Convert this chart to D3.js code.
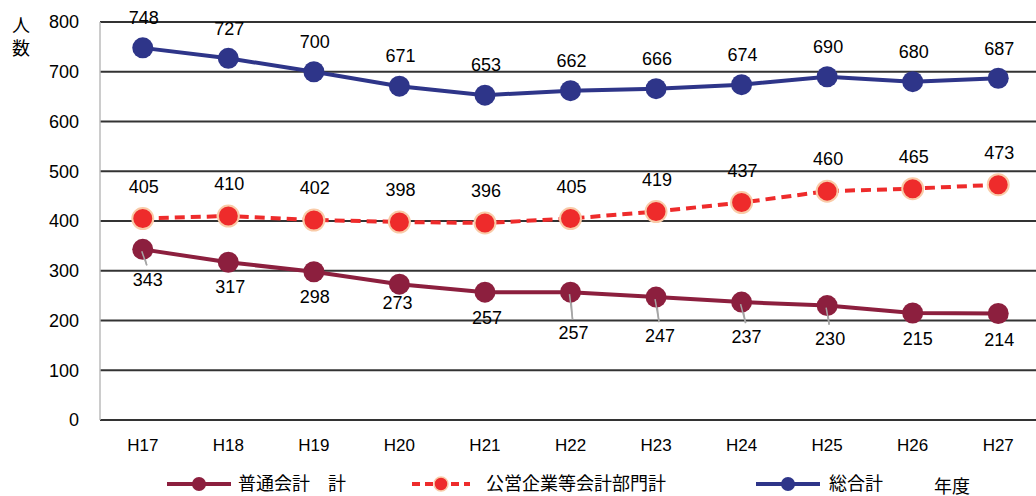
<!DOCTYPE html>
<html>
<head>
<meta charset="utf-8">
<script src="https://cdn.jsdelivr.net/npm/d3@7"></script>
<style>
  body { margin: 0; background: #fff; }
  text { font-family: "Liberation Sans", "Noto Sans CJK JP", sans-serif; fill: #000; }
</style>
</head>
<body>
<script>
// data
const years = ["H17", "H18", "H19", "H20", "H21", "H22", "H23", "H24", "H25", "H26", "H27"];
const general = [343, 317, 298, 273, 257, 257, 247, 237, 230, 215, 214];
const publicCo = [405, 410, 402, 398, 396, 405, 419, 437, 460, 465, 473];
const total = [748, 727, 700, 671, 653, 662, 666, 674, 690, 680, 687];
const yTicks = [0, 100, 200, 300, 400, 500, 600, 700, 800];
const seriesNames = ["普通会計\u3000計", "公営企業等会計部門計", "総合計"];

// label placement tweaks for the lower series (Excel moved some labels and drew leader lines)
const generalLabelDy = [30, 24, 25, 19, 26, 41, 39, 35, 33, 26, 26];
const generalLabelDx = [5, 2, 1, -2, 2, 3, 4, 5, 3, 5, 1];
const generalLeader = [true, false, false, false, false, true, true, true, true, false, false];

const width = 1036, height = 496;
const svg = d3.select("body").append("svg")
  .attr("width", width)
  .attr("height", height);

const x = d3.scaleBand().domain(years).range([100, 1041]);
const y = d3.scaleLinear().domain([0, 800]).range([420, 22]);
const cx = d => x(d) + x.bandwidth() / 2;

// gridlines
svg.append("g")
  .selectAll("line")
  .data(yTicks)
  .join("line")
  .attr("x1", 100)
  .attr("x2", width)
  .attr("y1", d => y(d))
  .attr("y2", d => y(d))
  .attr("stroke", "#333")
  .attr("stroke-width", 2);

// left axis line
svg.append("line")
  .attr("x1", 100).attr("x2", 100)
  .attr("y1", y(800)).attr("y2", y(0))
  .attr("stroke", "#bbb")
  .attr("stroke-width", 1.5);

// y tick labels
svg.append("g")
  .selectAll("text")
  .data(yTicks)
  .join("text")
  .attr("x", 79)
  .attr("y", d => y(d))
  .attr("dy", "0.35em")
  .attr("text-anchor", "end")
  .attr("font-size", 18)
  .text(d => d);

// x tick labels
svg.append("g")
  .selectAll("text")
  .data(years)
  .join("text")
  .attr("x", d => cx(d))
  .attr("y", 451)
  .attr("text-anchor", "middle")
  .attr("font-size", 17)
  .text(d => d);

// y axis title (vertical)
svg.append("text").attr("x", 21).attr("y", 32).attr("text-anchor", "middle").attr("font-size", 18).text("人");
svg.append("text").attr("x", 21).attr("y", 55).attr("text-anchor", "middle").attr("font-size", 18).text("数");

const line = d3.line().x((d, i) => cx(years[i])).y(d => y(d));

// leader lines (behind markers)
svg.append("g")
  .selectAll("line")
  .data(general.map((v, i) => ({ v, i })).filter(d => generalLeader[d.i]))
  .join("line")
  .attr("x1", d => cx(years[d.i]))
  .attr("y1", d => y(d.v))
  .attr("x2", d => cx(years[d.i]) + generalLabelDx[d.i] - 1)
  .attr("y2", d => y(d.v) + generalLabelDy[d.i] - 14)
  .attr("stroke", "#a6a6a6")
  .attr("stroke-width", 1.5);

function drawSeries(values, color, opts) {
  const g = svg.append("g");
  g.append("path")
    .datum(values)
    .attr("d", line)
    .attr("fill", "none")
    .attr("stroke", color)
    .attr("stroke-width", 4)
    .attr("stroke-dasharray", opts.dash || null);
  g.selectAll("circle")
    .data(values)
    .join("circle")
    .attr("cx", (d, i) => cx(years[i]))
    .attr("cy", d => y(d))
    .attr("r", 10.5)
    .attr("fill", color)
    .attr("stroke", opts.outline || "none")
    .attr("stroke-width", opts.outline ? 2 : 0);
  return g;
}

const gGen = drawSeries(general, "#8c1f3e", {});
const gPub = drawSeries(publicCo, "#ee2b2b", { dash: "10,6", outline: "#f9cba8" });
const gTot = drawSeries(total, "#2e3589", {});

// the leader lines sit over the dark red markers in the reference
svg.append("g")
  .selectAll("line")
  .data(general.map((v, i) => ({ v, i })).filter(d => generalLeader[d.i]))
  .join("line")
  .attr("x1", d => cx(years[d.i]) - 1)
  .attr("y1", d => y(d.v) + 2)
  .attr("x2", d => cx(years[d.i]) + generalLabelDx[d.i] - 1)
  .attr("y2", d => y(d.v) + generalLabelDy[d.i] - 14)
  .attr("stroke", "#a6a6a6")
  .attr("stroke-width", 1.5);

// data labels
function labels(values, dyFn, dxFn) {
  svg.append("g")
    .selectAll("text")
    .data(values)
    .join("text")
    .attr("x", (d, i) => cx(years[i]) + dxFn(i))
    .attr("y", (d, i) => y(d) + dyFn(i))
    .attr("dy", "0.35em")
    .attr("text-anchor", "middle")
    .attr("font-size", 18)
    .text(d => d);
}
labels(total, () => -30, () => 1);
labels(publicCo, () => -32, () => 1);
labels(general, i => generalLabelDy[i], i => generalLabelDx[i]);

// legend
const legend = svg.append("g").attr("transform", "translate(0,484)");
const legendItems = [
  { name: seriesNames[0], color: "#8c1f3e", x1: 167, x2: 231, tx: 238 },
  { name: seriesNames[1], color: "#ee2b2b", x1: 412, x2: 470, tx: 486, dash: "8,5", outline: "#f9cba8" },
  { name: seriesNames[2], color: "#2e3589", x1: 756, x2: 820, tx: 829 }
];
legendItems.forEach(d => {
  legend.append("line")
    .attr("x1", d.x1).attr("x2", d.x2)
    .attr("y1", 0).attr("y2", 0)
    .attr("stroke", d.color)
    .attr("stroke-width", 4)
    .attr("stroke-dasharray", d.dash || null);
  legend.append("circle")
    .attr("cx", (d.x1 + d.x2) / 2)
    .attr("cy", 0)
    .attr("r", 7)
    .attr("fill", d.color)
    .attr("stroke", d.outline || "none")
    .attr("stroke-width", d.outline ? 1.5 : 0);
  legend.append("text")
    .attr("x", d.tx)
    .attr("y", 0)
    .attr("dy", "0.35em")
    .attr("font-size", 18)
    .text(d.name);
});
legend.append("text")
  .attr("x", 934)
  .attr("y", 3)
  .attr("dy", "0.35em")
  .attr("font-size", 18)
  .text("年度");
</script>
</body>
</html>
